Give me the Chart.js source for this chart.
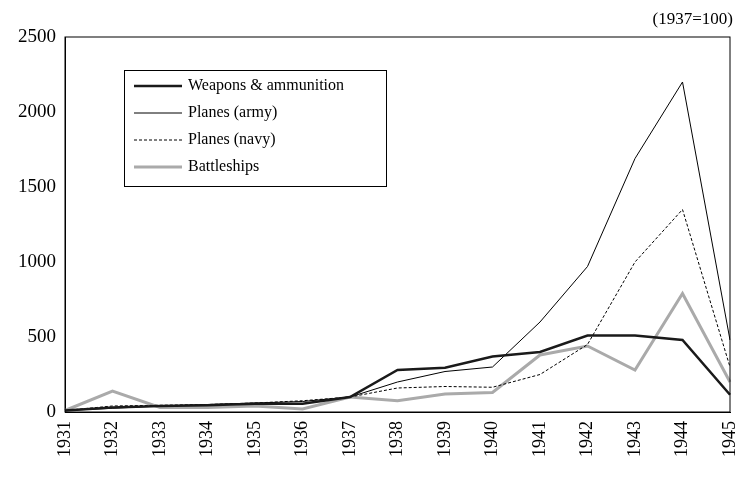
<!DOCTYPE html>
<html>
<head>
<meta charset="utf-8">
<script src="https://cdn.jsdelivr.net/npm/chart.js@4/dist/chart.umd.min.js"></script>
<style>
  body { margin: 0; background: #fff; }
  #wrap { width: 737px; height: 477px; }
</style>
</head>
<body>
<div id="wrap"><canvas id="chart"></canvas></div>
<script>
const years = ["1931","1932","1933","1934","1935","1936","1937","1938","1939","1940","1941","1942","1943","1944","1945"];
const weapons = [10, 30, 40, 45, 55, 55, 100, 280, 295, 370, 400, 510, 510, 480, 115];
const planesArmy = [10, 25, 40, 50, 60, 70, 100, 200, 270, 300, 600, 970, 1690, 2200, 480];
const planesNavy = [10, 40, 45, 50, 60, 75, 100, 160, 170, 165, 250, 450, 1000, 1350, 300];
const battleships = [10, 140, 30, 30, 40, 20, 100, 75, 120, 130, 380, 440, 280, 790, 200];

const FONT = "'Liberation Serif', 'Times New Roman', serif";

// legend drawn inside the plot, with a box; plus frame and unit note
const boxLegend = {
  id: "boxLegend",
  afterDraw(chart) {
    const ctx = chart.ctx;
    const a = chart.chartArea;
    ctx.save();
    ctx.strokeStyle = "#000";
    ctx.lineWidth = 1;
    ctx.strokeRect(a.left, a.top, a.right - a.left, a.bottom - a.top);
    const x0 = 124, y0 = 70, w = 262, h = 116;
    ctx.fillStyle = "#fff";
    ctx.fillRect(x0, y0, w, h);
    ctx.strokeRect(x0 + 0.5, y0 + 0.5, w, h);
    ctx.font = "16px " + FONT;
    ctx.textBaseline = "middle";
    chart.data.datasets.forEach((ds, i) => {
      const y = y0 + 16 + i * 27;
      ctx.beginPath();
      ctx.strokeStyle = ds.borderColor;
      ctx.lineWidth = ds.borderWidth;
      ctx.setLineDash(ds.borderDash || []);
      ctx.moveTo(x0 + 10, y);
      ctx.lineTo(x0 + 58, y);
      ctx.stroke();
      ctx.setLineDash([]);
      ctx.fillStyle = "#000";
      ctx.fillText(ds.label, x0 + 64, y);
    });
    ctx.textAlign = "right";
    ctx.textBaseline = "alphabetic";
    ctx.font = "17px " + FONT;
    ctx.fillText("(1937=100)", 733, 24);
    ctx.restore();
  }
};

new Chart(document.getElementById("chart"), {
  type: "line",
  data: {
    labels: years,
    datasets: [
      { label: "Weapons & ammunition", data: weapons, borderColor: "#1a1a1a", borderWidth: 2.5 },
      { label: "Planes (army)", data: planesArmy, borderColor: "#000", borderWidth: 1 },
      { label: "Planes (navy)", data: planesNavy, borderColor: "#000", borderWidth: 1, borderDash: [3, 2] },
      { label: "Battleships", data: battleships, borderColor: "#aaaaaa", borderWidth: 3 }
    ]
  },
  options: {
    responsive: true,
    maintainAspectRatio: false,
    animation: false,
    layout: { padding: { top: 37, right: 7, left: 0, bottom: 0 } },
    elements: { point: { radius: 0 }, line: { tension: 0 } },
    plugins: { legend: { display: false }, tooltip: { enabled: false } },
    scales: {
      x: {
        offset: false,
        grid: { display: false, drawTicks: true, tickLength: 6, tickColor: "#000" },
        border: { color: "#000" },
        ticks: { color: "#000", font: { family: FONT, size: 18 }, maxRotation: 90, minRotation: 90, autoSkip: false },
        afterFit(scale) { scale.height = 65; scale.paddingRight = 0; scale.paddingLeft = 0; }
      },
      y: {
        min: 0, max: 2500,
        grid: { display: false, tickLength: 6, tickColor: "#000" },
        border: { color: "#000" },
        ticks: { stepSize: 500, color: "#000", font: { family: FONT, size: 19 }, callback: v => String(v) },
        afterFit(scale) { scale.width = 65; }
      }
    }
  },
  plugins: [boxLegend]
});
</script>
</body>
</html>
